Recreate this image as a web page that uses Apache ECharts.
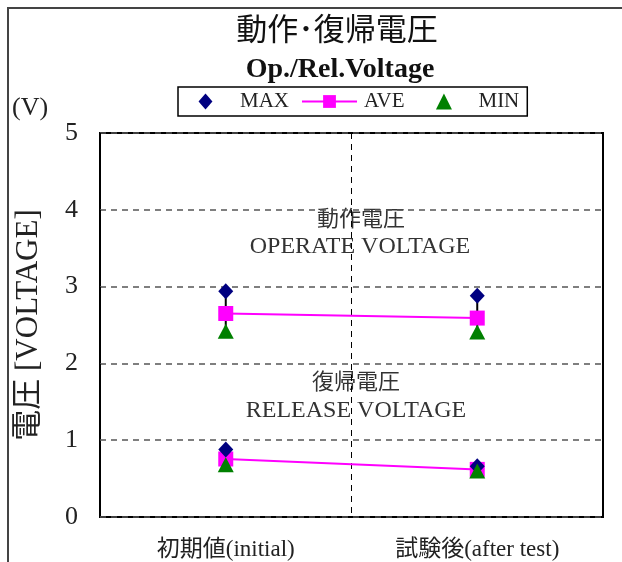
<!DOCTYPE html>
<html><head><meta charset="utf-8">
<script src="https://cdn.jsdelivr.net/npm/echarts@6/dist/echarts.min.js"></script>
<style>html,body{margin:0;padding:0;background:#fff;}#c{width:622px;height:562px;}</style>
</head><body><div id="c"></div>
<script>
const categories = ['初期値(initial)', '試験後(after test)'];
const yTicks = [0, 1, 2, 3, 4, 5];
const opMax = [2.94, 2.88];
const opAve = [2.65, 2.59];
const opMin = [2.42, 2.41];
const relMax = [0.88, 0.66];
const relAve = [0.755, 0.62];
const relMin = [0.68, 0.60];

const FF = "'Liberation Serif','Noto Sans CJK JP',serif";
const chart = echarts.init(document.getElementById('c'));

function pts(arr) { return arr.map((v, i) => [i, v]); }
const hiLo = [];
[[opMax, opMin], [relMax, relMin]].forEach(([hi, lo]) => {
  hi.forEach((v, i) => hiLo.push([i, v, lo[i]]));
});

// legend key icons padded with move-to points so they sit centred in a wide key
const DIAMOND = 'path://M-3.44,0L-3.44,0M0,-1L0.87,0L0,1L-0.87,0ZM3.44,0L3.44,0';
const TRI = 'path://M-3.44,0L-3.44,0M0,-1L1,1L-1,1ZM3.44,0L3.44,0';

chart.setOption({
  animation: false,
  backgroundColor: '#fff',
  textStyle: { fontFamily: FF },
  grid: { left: 100, right: 19, top: 133, bottom: 45, show: true, borderColor: '#000', borderWidth: 2, backgroundColor: 'transparent' },
  title: [
    { text: '動作･復帰電圧', left: 332, top: 11, textAlign: 'center', textStyle: { fontFamily: FF, fontSize: 31, fontWeight: 'normal', color: '#111' } },
    { text: 'Op./Rel.Voltage', left: 335, top: 51, textAlign: 'center', textStyle: { fontFamily: FF, fontSize: 28, fontWeight: 'bold', color: '#111' } }
  ],
  legend: {
    left: 178, top: 87, orient: 'horizontal',
    data: [{ name: 'MAX', icon: DIAMOND }, { name: 'AVE' }, { name: 'MIN', icon: TRI }],
    itemWidth: 55, itemHeight: 16, itemGap: 12,
    padding: [4, 8, 4, 0],
    borderColor: '#000', borderWidth: 1.5,
    textStyle: { fontFamily: FF, fontSize: 21, color: '#222', padding: [0, 0, 0, 2] }
  },
  xAxis: {
    type: 'category', data: categories, boundaryGap: true,
    axisLine: { show: false }, axisTick: { show: false },
    axisLabel: { fontFamily: FF, fontSize: 23, color: '#222', margin: 21 },
    splitLine: { show: true, lineStyle: { color: '#000', type: [6, 5], width: 1 } }
  },
  yAxis: {
    type: 'value', min: 0, max: 5, interval: 1,
    name: '電圧 [VOLTAGE]', nameLocation: 'middle', nameGap: 56, nameRotate: 90,
    nameTextStyle: { fontFamily: FF, fontSize: 31, color: '#222' },
    axisLine: { show: false }, axisTick: { show: false },
    axisLabel: { fontFamily: FF, fontSize: 26, color: '#222', margin: 22, formatter: v => yTicks.includes(v) ? String(v) : '' },
    splitLine: { show: true, lineStyle: { color: '#555', type: [6, 5], width: 1.5 } }
  },
  graphic: [
    { type: 'rect', left: 7, top: 7, shape: { x: 0, y: 0, width: 700, height: 700 }, style: { fill: 'transparent', stroke: '#444', lineWidth: 2 }, silent: true, z: -10 },
    { type: 'text', x: 12, y: 95, style: { text: '(V)', font: '26px ' + FF, fill: '#222' } },
    { type: 'text', x: 361, y: 209, style: { text: '動作電圧', font: '22px ' + FF, fill: '#333', textAlign: 'center' } },
    { type: 'text', x: 360, y: 235, style: { text: 'OPERATE VOLTAGE', font: '24px ' + FF, fill: '#333', textAlign: 'center' } },
    { type: 'text', x: 356, y: 372, style: { text: '復帰電圧', font: '22px ' + FF, fill: '#333', textAlign: 'center' } },
    { type: 'text', x: 356, y: 399, style: { text: 'RELEASE VOLTAGE', font: '24px ' + FF, fill: '#333', textAlign: 'center' } }
  ],
  series: [
    {
      type: 'custom', name: 'hilo', data: hiLo, z: 1, silent: true,
      renderItem: (params, api) => {
        const a = api.coord([api.value(0), api.value(1)]);
        const b = api.coord([api.value(0), api.value(2)]);
        return { type: 'line', shape: { x1: a[0], y1: a[1], x2: b[0], y2: b[1] }, style: { stroke: '#000', lineWidth: 2 } };
      }
    },
    { type: 'line', name: 'AVE', data: opAve, symbol: 'rect', symbolSize: 15, z: 3,
      itemStyle: { color: '#FF00FF', opacity: 1 }, lineStyle: { color: '#FF00FF', width: 2 } },
    { type: 'line', name: 'AVE', data: relAve, symbol: 'rect', symbolSize: 15, z: 3,
      itemStyle: { color: '#FF00FF', opacity: 1 }, lineStyle: { color: '#FF00FF', width: 2 } },
    { type: 'scatter', name: 'MAX', data: pts(opMax).concat(pts(relMax)), symbol: 'diamond', symbolSize: [15, 16], z: 4,
      itemStyle: { color: '#000080', opacity: 1 } },
    { type: 'scatter', name: 'MIN', data: pts(opMin).concat(pts(relMin)), symbol: 'triangle', symbolSize: [16, 15], z: 5,
      itemStyle: { color: '#008000', opacity: 1 } }
  ]
});
</script></body></html>
